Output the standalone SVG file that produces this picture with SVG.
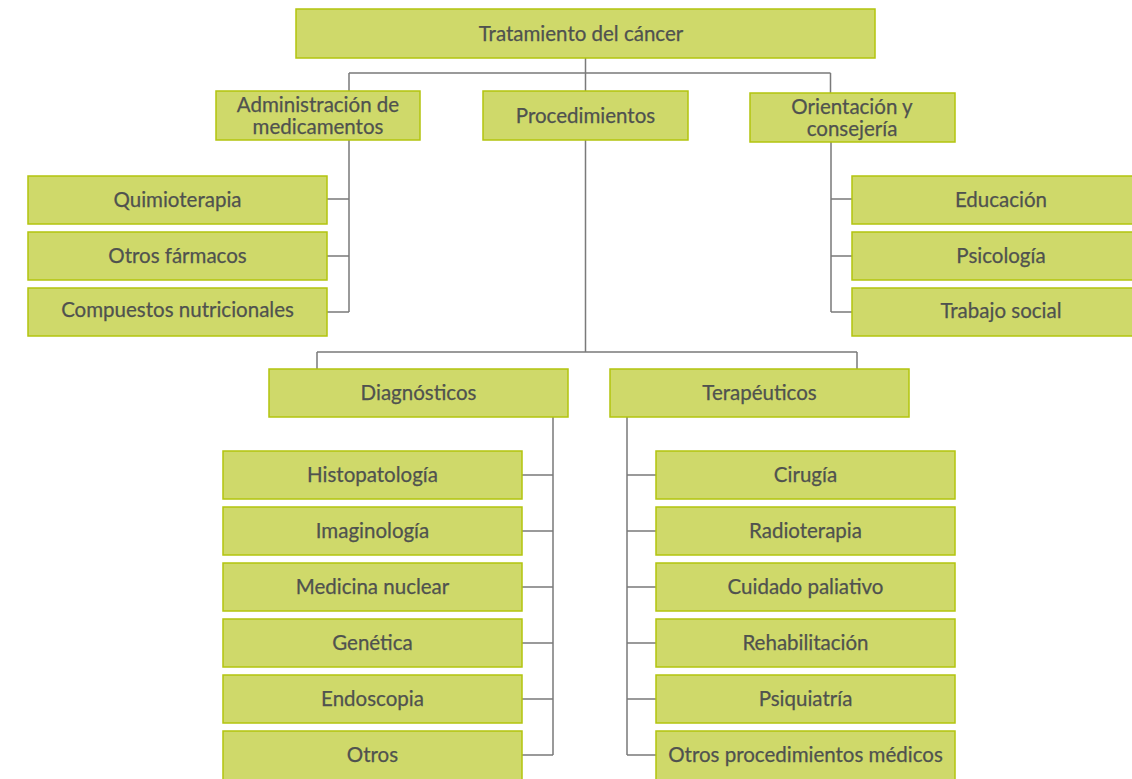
<svg xmlns="http://www.w3.org/2000/svg" width="1132" height="779" viewBox="0 0 1132 779">
<style>
.box{fill:#cfd96a;stroke:#b3c40e;stroke-width:1.5}
.t{font-family:Lato,"Open Sans",sans-serif;font-size:20.5px;fill:#4f524f;text-anchor:middle;dominant-baseline:central;stroke:#4f524f;stroke-width:0.25}
.c{fill:none;stroke:#7a7a7a;stroke-width:1.5}
</style>
<rect width="1132" height="779" fill="#fff"/>
<g id="connectors">
<path class="c" d="M585.5 58V73M349 73H830.5M349 73V91M585.5 73V91M830.5 73V93"/>
<path class="c" d="M349 140V312M327 199H349M327 256H349M327 312H349"/>
<path class="c" d="M831 142V312M831 199H852M831 256H852M831 312H852"/>
<path class="c" d="M585.5 140V352M317 352H857M317 352V369M857 352V369"/>
<path class="c" d="M553 417V755M522 475H553M522 531H553M522 587H553M522 643H553M522 699H553M522 755H553"/>
<path class="c" d="M627 417V755M627 475H656M627 531H656M627 587H656M627 643H656M627 699H656M627 755H656"/>
</g>
<g id="root"><rect class="box" x="296" y="9" width="579" height="49"/><text class="t" x="581" y="33">Tratamiento del cáncer</text></g>
<g id="admin"><rect class="box" x="216" y="91" width="204" height="49"/><text class="t" x="318" y="104">Administración de</text><text class="t" x="318" y="126">medicamentos</text></g>
<g id="proc"><rect class="box" x="483" y="91" width="205" height="49"/><text class="t" x="585.5" y="115">Procedimientos</text></g>
<g id="orient"><rect class="box" x="750" y="93" width="205" height="49"/><text class="t" x="852" y="106">Orientación y</text><text class="t" x="852" y="128">consejería</text></g>
<g id="quimio"><rect class="box" x="28" y="176" width="299" height="48"/><text class="t" x="177.5" y="199">Quimioterapia</text></g>
<g id="farmacos"><rect class="box" x="28" y="232" width="299" height="48"/><text class="t" x="177.5" y="255">Otros fármacos</text></g>
<g id="compuestos"><rect class="box" x="28" y="288" width="299" height="48"/><text class="t" x="177.5" y="309">Compuestos nutricionales</text></g>
<g id="educacion"><rect class="box" x="852" y="176" width="290" height="48"/><text class="t" x="1001" y="199">Educación</text></g>
<g id="psicologia"><rect class="box" x="852" y="232" width="290" height="48"/><text class="t" x="1001" y="255">Psicología</text></g>
<g id="trabajo"><rect class="box" x="852" y="288" width="290" height="48"/><text class="t" x="1001" y="310">Trabajo social</text></g>
<g id="diag"><rect class="box" x="269" y="369" width="299" height="48"/><text class="t" x="418.5" y="392">Diagnósticos</text></g>
<g id="terap"><rect class="box" x="610" y="369" width="299" height="48"/><text class="t" x="759.5" y="392">Terapéuticos</text></g>
<g id="histo"><rect class="box" x="223" y="451" width="299" height="48"/><text class="t" x="372.5" y="474">Histopatología</text></g>
<g id="imagino"><rect class="box" x="223" y="507" width="299" height="48"/><text class="t" x="372.5" y="530">Imaginología</text></g>
<g id="medicina"><rect class="box" x="223" y="563" width="299" height="48"/><text class="t" x="372.5" y="586">Medicina nuclear</text></g>
<g id="genetica"><rect class="box" x="223" y="619" width="299" height="48"/><text class="t" x="372.5" y="642">Genética</text></g>
<g id="endo"><rect class="box" x="223" y="675" width="299" height="48"/><text class="t" x="372.5" y="698">Endoscopia</text></g>
<g id="otros"><rect class="box" x="223" y="731" width="299" height="55"/><text class="t" x="372.5" y="754">Otros</text></g>
<g id="cirugia"><rect class="box" x="656" y="451" width="299" height="48"/><text class="t" x="805.5" y="474">Cirugía</text></g>
<g id="radio"><rect class="box" x="656" y="507" width="299" height="48"/><text class="t" x="805.5" y="530">Radioterapia</text></g>
<g id="cuidado"><rect class="box" x="656" y="563" width="299" height="48"/><text class="t" x="805.5" y="586">Cuidado paliativo</text></g>
<g id="rehab"><rect class="box" x="656" y="619" width="299" height="48"/><text class="t" x="805.5" y="642">Rehabilitación</text></g>
<g id="psiq"><rect class="box" x="656" y="675" width="299" height="48"/><text class="t" x="805.5" y="698">Psiquiatría</text></g>
<g id="otrosproc"><rect class="box" x="656" y="731" width="299" height="55"/><text class="t" x="805.5" y="754">Otros procedimientos médicos</text></g>
</svg>
